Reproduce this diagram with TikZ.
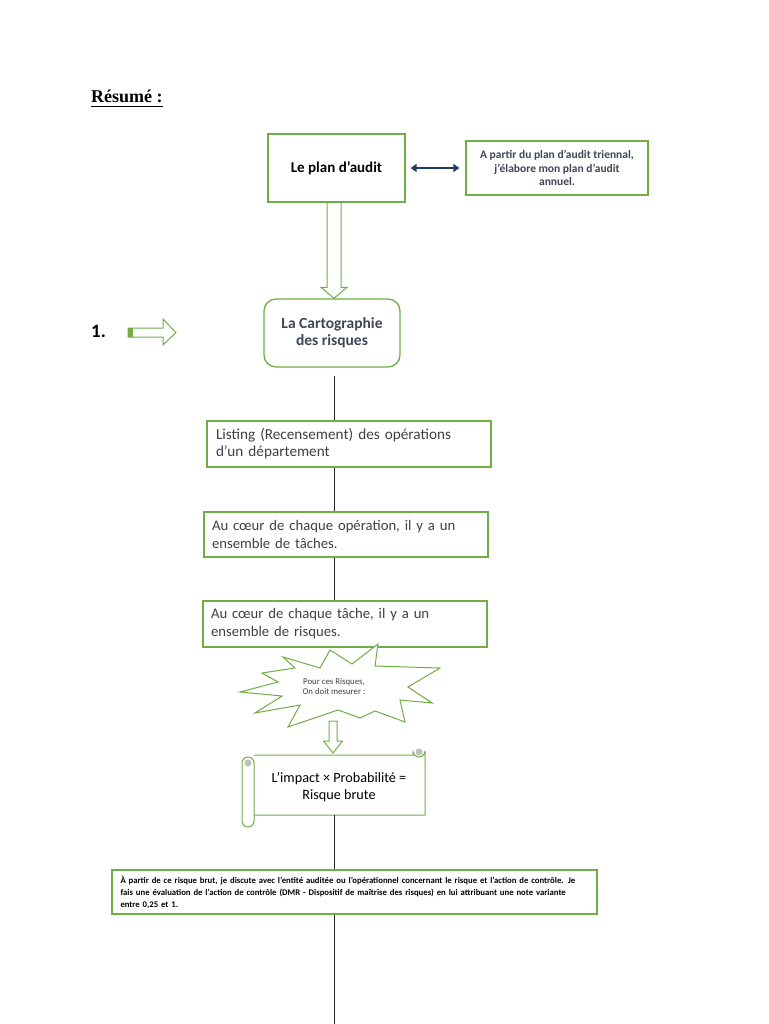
\documentclass[tikz,border=0pt]{standalone}
\usepackage{fontspec}
\setmainfont{Carlito}
\newfontfamily\titlefont{Liberation Serif}
\usetikzlibrary{calc,arrows.meta}
\definecolor{boxgreen}{HTML}{70AD47}
\definecolor{slate}{HTML}{3F4656}
\definecolor{darktext}{HTML}{404040}
\definecolor{navy}{HTML}{203864}
\definecolor{curlgray}{HTML}{BFBFBF}
\tikzset{
  box/.style={draw=boxgreen, line width=1.3pt, fill=white, inner sep=0pt},
  leftbox/.style={box, align=left, text width=#1},
  blockline/.style={draw=boxgreen, line width=1pt, fill=white, line join=miter},
  link/.style={draw=black!85, line width=0.9pt},
  navyarrow/.style={draw=navy, line width=2.6pt,
    {Triangle[width=8pt,length=6pt]}-{Triangle[width=8pt,length=6pt]},
    shorten <=5pt, shorten >=6pt}
}
% block arrow pointing down: from, to, shaft half, head half, head length
\newcommand{\downblock}[5]{%
  \draw[blockline] let \p1=(#1), \p2=(#2) in
    (\x1-#3pt,\y1) -- (\x1-#3pt,\y2+#5pt) -- (\x1-#4pt,\y2+#5pt) -- (\x1,\y2)
    -- (\x1+#4pt,\y2+#5pt) -- (\x1+#3pt,\y2+#5pt) -- (\x1+#3pt,\y1) -- cycle;}
\begin{document}
\begin{tikzpicture}[x=1pt,y=-1pt]
\useasboundingbox (0,0) rectangle (768,1024);
\coordinate (axis) at (334,0);

% title
\node[anchor=base west, inner sep=0pt, font=\titlefont\bfseries\fontsize{18}{21}\selectfont] (title) at (91,103) {Résumé :};
\draw[line width=1.1pt] ([yshift=-3.5pt]title.base west) -- ([yshift=-3.5pt]title.base east);

% top row
\node[box, minimum width=137pt, minimum height=68pt, font=\bfseries\fontsize{15}{18}\selectfont] (plan) at (336.5,168) {Le plan d’audit};
\node[box, minimum width=182pt, minimum height=54pt, align=center, text=slate,
  font=\bfseries\fontsize{11.5}{13.5}\selectfont] (partir) at (557,168)
  {A partir du plan d'audit triennal,\\ j'élabore mon plan d'audit\\ annuel.};
\draw[navyarrow] (plan.east) -- (partir.west);

% cartographie
\node[box, rounded corners=12pt, minimum width=136pt, minimum height=68pt, align=center, text=slate,
  font=\bfseries\fontsize{15.5}{17}\selectfont] (carto) at (332,333) {La Cartographie\\ des risques};
\downblock{axis |- plan.south}{axis |- carto.north}{7}{13}{11}

% step number
\node[anchor=base west, inner sep=0pt, font=\bfseries\fontsize{19}{22}\selectfont] (num) at (91,337) {1.};
\draw[blockline] (128,328) -- (163,328) -- (163,319) -- (176,332.5) -- (163,345) -- (163,337) -- (128,337) -- cycle;
\fill[boxgreen] (128,328) rectangle (133,337);

% operations
\node[leftbox=266pt, minimum width=284pt, minimum height=46pt, text=darktext,
  font=\fontsize{15.2}{17}\selectfont] (listing) at (349,444)
  {Listing (Recensement) des opérations\\ d'un département};
\node[leftbox=268pt, minimum width=284pt, minimum height=45pt, text=darktext,
  font=\fontsize{14.7}{18}\selectfont] (taches) at (346,534.5)
  {Au cœur de chaque opération, il y a un\\ ensemble de tâches.};
\node[leftbox=268pt, minimum width=284pt, minimum height=46pt, text=darktext,
  font=\fontsize{14.7}{18}\selectfont] (risques) at (345,624)
  {Au cœur de chaque tâche, il y a un\\ ensemble de risques.};
\draw[link] ([yshift=-8pt]axis |- carto.south) -- (axis |- listing.north);
\draw[link] (axis |- listing.south) -- (axis |- taches.north);
\draw[link] (axis |- taches.south) -- (axis |- risques.north);

% starburst
\draw[blockline] (283,657) -- (320,668) -- (330,650) -- (352,664) -- (378,644) -- (375,666)
  -- (440,668) -- (408,687) -- (432,703) -- (400,700) -- (405,722) -- (375,711)
  -- (360,718) -- (338,710) -- (288,727) -- (300,705) -- (255,713) -- (282,696)
  -- (240,692) -- (278,682) -- (262,673) -- (295,668) -- cycle;
\node[align=center, text=darktext, font=\fontsize{8.8}{10}\selectfont] (burst) at (334,686)
  {Pour ces Risques,\\ On doit mesurer :};

% scroll
\draw[blockline] (254,755) -- (413,755) -- (413,751) arc[start angle=180, end angle=360, radius=6pt]
  -- (425,815) -- (254,815);
\fill[curlgray] (419,752) circle[radius=3.5pt];
\draw[blockline, rounded corners=6pt] (242,757) rectangle (254,827);
\fill[curlgray] (248,763) circle[radius=3.5pt];
\node[align=center, font=\fontsize{14.2}{16.5}\selectfont] (impact) at (339,787)
  {L’impact × Probabilité =\\ Risque brute};
\coordinate (burstend) at (333,721);
\coordinate (scrolltop) at (333,753);
\downblock{burstend}{scrolltop}{4}{9.5}{12}

% bottom box
\node[leftbox=468pt, minimum width=485pt, minimum height=44pt,
  font=\bfseries\fontsize{8.7}{12}\selectfont] (dmr) at (354.5,892)
  {\mbox{À partir de ce risque brut, je discute avec l'entité auditée ou l'opérationnel concernant le risque et l'action de contrôle. Je}\\
   \mbox{fais une évaluation de l'action de contrôle (DMR - Dispositif de maîtrise des risques) en lui attribuant une note variante}\\
   entre 0,25 et 1.};
\coordinate (scrollend) at (334,815);
\coordinate (pageend) at (334,1024);
\draw[link] (scrollend) -- (axis |- dmr.north);
\draw[link] (axis |- dmr.south) -- (pageend);
\end{tikzpicture}
\end{document}
